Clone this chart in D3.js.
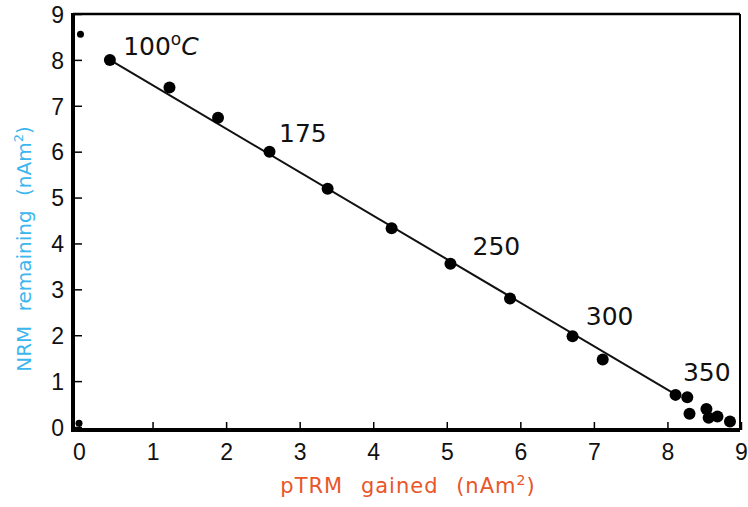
<!DOCTYPE html>
<html><head><meta charset="utf-8">
<script src="https://cdn.jsdelivr.net/npm/d3@7"></script>
<style>body{margin:0;background:#fff}svg{display:block}</style>
</head><body>
<svg id="c" width="748" height="507"></svg>
<script>
// data
const pointsX = [0.42, 1.23, 1.89, 2.59, 3.38, 4.25, 5.05, 5.86, 6.71, 7.12, 8.11, 8.27, 8.30, 8.53, 8.56, 8.68, 8.85];
const pointsY = [8.00, 7.40, 6.74, 6.00, 5.19, 4.33, 3.56, 2.80, 1.98, 1.47, 0.70, 0.65, 0.29, 0.39, 0.20, 0.23, 0.12];
const smallX = [0.02, 0];
const smallY = [8.56, 0.08];
const fitX = [0.42, 8.12];
const fitY = [8.00, 0.70];
const labelText = ["100", "175", "250", "300", "350"];
const labelX = [0.60, 2.72, 5.35, 6.89, 8.21];
const labelY = [8.10, 6.21, 3.75, 2.22, 1.00];
const ticks = [0,1,2,3,4,5,6,7,8,9];

const svg = d3.select("#c");
const x = d3.scaleLinear().domain([0, 9]).range([79, 741]);
const y = d3.scaleLinear().domain([0, 9]).range([427, 14]);
const L = 73, R = 740, T = 14, B = 430;

// frame
svg.append("line").attr("x1",L).attr("x2",R).attr("y1",T).attr("y2",T).attr("stroke","#000").attr("stroke-width",2.5);
svg.append("line").attr("x1",R).attr("x2",R).attr("y1",T).attr("y2",B).attr("stroke","#000").attr("stroke-width",2);

// axes with inward ticks
const xAxis = d3.axisBottom(x).tickValues(ticks).tickSize(-8).tickPadding(18).tickSizeOuter(0);
const gx = svg.append("g").attr("transform",`translate(0,${B})`).call(xAxis);
gx.select(".domain").remove();
gx.selectAll(".tick line").attr("stroke","#000").attr("stroke-width",1.5);
gx.selectAll(".tick text").attr("font-family","Liberation Sans, Arial, sans-serif").attr("font-size",23).attr("fill","#111").attr("dy","0.5em");

const yAxis = d3.axisLeft(y).tickValues(ticks).tickSize(-9).tickPadding(18).tickSizeOuter(0);
const gy = svg.append("g").attr("transform",`translate(${L},0)`).call(yAxis);
gy.select(".domain").remove();
gy.selectAll(".tick line").attr("stroke","#000").attr("stroke-width",1.5);
gy.selectAll(".tick text").attr("font-family","Liberation Sans, Arial, sans-serif").attr("font-size",23).attr("fill","#111").attr("x",-9).attr("dy","0.36em");

svg.append("line").attr("x1",L).attr("x2",R).attr("y1",B).attr("y2",B).attr("stroke","#000").attr("stroke-width",4);
svg.append("line").attr("x1",L).attr("x2",L).attr("y1",T-1).attr("y2",B+2).attr("stroke","#000").attr("stroke-width",4);

// fit line
svg.append("line")
  .attr("x1",x(fitX[0])).attr("y1",y(fitY[0]))
  .attr("x2",x(fitX[1])).attr("y2",y(fitY[1]))
  .attr("stroke","#111").attr("stroke-width",2);

// points
svg.append("g").selectAll("circle").data(pointsX).join("circle")
  .attr("cx",(d,i)=>x(d)).attr("cy",(d,i)=>y(pointsY[i])).attr("r",6).attr("fill","#000");
svg.append("g").selectAll("circle").data(smallX).join("circle")
  .attr("cx",(d,i)=>x(d)).attr("cy",(d,i)=>y(smallY[i])).attr("r",3.5).attr("fill","#000");

// annotations
const ann = svg.append("g").attr("font-family","DejaVu Sans, Verdana, sans-serif").attr("font-size",25).attr("fill","#111");
labelText.forEach((t,i)=>{
  const tx = ann.append("text").attr("x",x(labelX[i])).attr("y",y(labelY[i])).text(t);
  if(i===0){
    tx.append("tspan").attr("font-size",17).attr("dy",-10).text("o");
    tx.append("tspan").attr("font-style","italic").attr("dy",10).text("C");
  }
});

// axis titles
const xt = svg.append("text").attr("x",408).attr("y",493).attr("text-anchor","middle")
  .attr("font-family","DejaVu Sans, Verdana, sans-serif").attr("font-size",21).attr("fill","#e8562a")
  .attr("letter-spacing",1).attr("word-spacing",10);
xt.append("tspan").text("pTRM gained (nAm");
xt.append("tspan").attr("font-size",14).attr("dy",-8).text("2");
xt.append("tspan").attr("dy",8).text(")");

const yt = svg.append("text").attr("transform","translate(31,249) rotate(-90)").attr("text-anchor","middle")
  .attr("font-family","DejaVu Sans, Verdana, sans-serif").attr("font-size",20).attr("fill","#3cb6ee")
  .attr("letter-spacing",0).attr("word-spacing",8);
yt.append("tspan").text("NRM remaining (nAm");
yt.append("tspan").attr("font-size",13).attr("dy",-8).text("2");
yt.append("tspan").attr("dy",8).text(")");
</script>
</body></html>
